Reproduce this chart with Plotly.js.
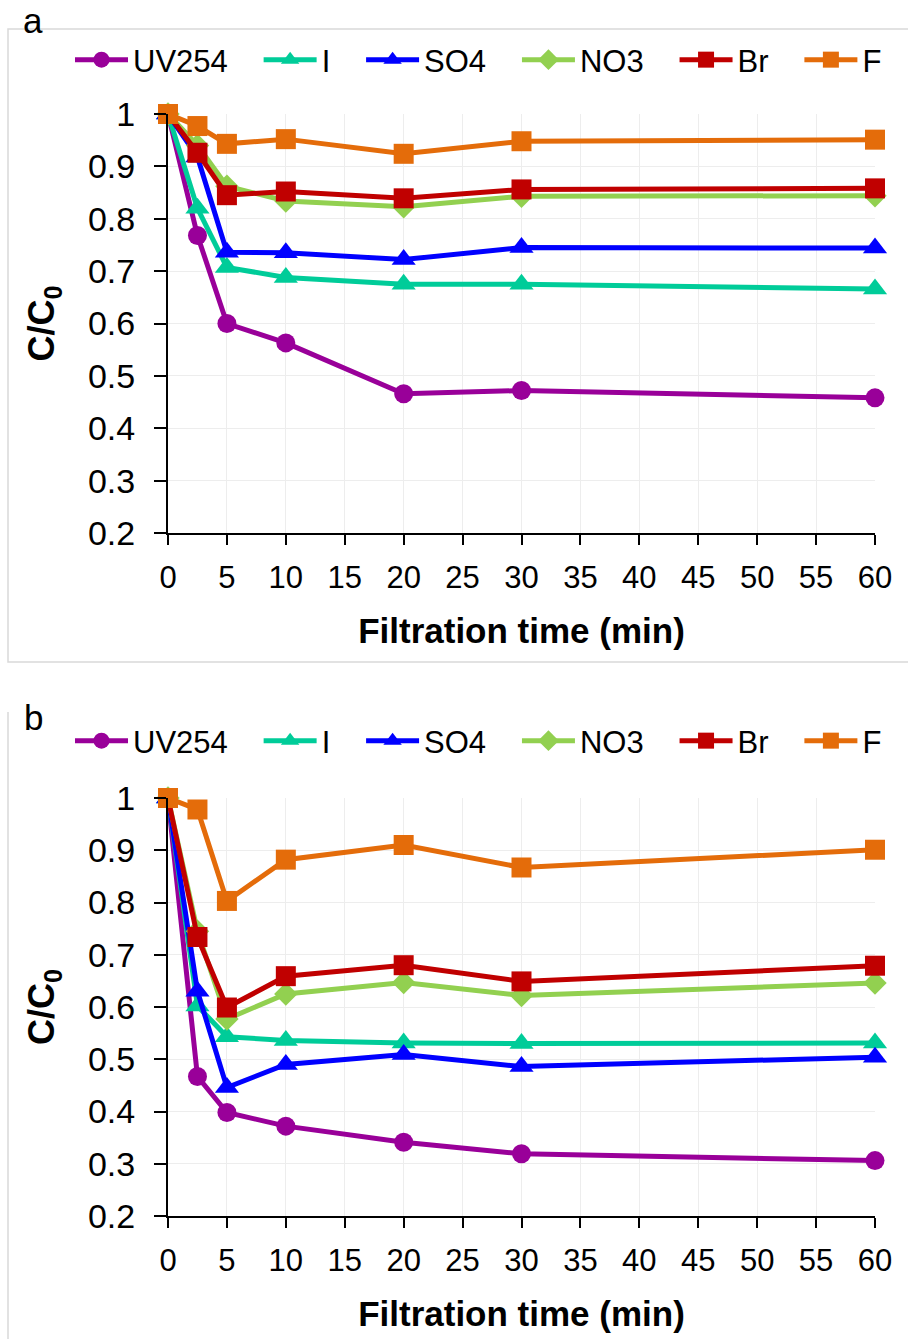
<!DOCTYPE html>
<html>
<head>
<meta charset="utf-8">
<script src="https://cdn.plot.ly/plotly-3.0.1.min.js"></script>
<style>
html,body{margin:0;padding:0;background:#fff;}
#wrap{position:relative;width:908px;height:1339px;overflow:hidden;}
#chartA{position:absolute;left:0;top:0;width:908px;height:690px;}
#chartB{position:absolute;left:0;top:690px;width:908px;height:649px;}
</style>
</head>
<body>
<div id="wrap"><div id="chartA"></div><div id="chartB"></div></div>
<script>
// Filtration time (min)
const times = [0, 2.5, 5, 10, 20, 30, 60];
const seriesNames = ["UV254", "I", "SO4", "NO3", "Br", "F"];

// Panel a
const uv254A = [1, 0.768, 0.600, 0.563, 0.466, 0.472, 0.458];
const iodideA = [1, 0.820, 0.707, 0.688, 0.675, 0.675, 0.666];
const sulfateA = [1, 0.918, 0.736, 0.735, 0.722, 0.745, 0.744];
const nitrateA = [1, 0.940, 0.862, 0.834, 0.823, 0.843, 0.844];
const bromideA = [1, 0.926, 0.845, 0.852, 0.839, 0.856, 0.858];
const fluorideA = [1, 0.977, 0.943, 0.952, 0.924, 0.948, 0.951];

// Panel b
const uv254B = [1, 0.467, 0.398, 0.372, 0.341, 0.319, 0.306];
const iodideB = [1, 0.602, 0.543, 0.536, 0.531, 0.530, 0.531];
const sulfateB = [1, 0.630, 0.446, 0.490, 0.509, 0.486, 0.504];
const nitrateB = [1, 0.745, 0.577, 0.625, 0.647, 0.622, 0.646];
const bromideB = [1, 0.734, 0.599, 0.659, 0.680, 0.649, 0.679];
const fluorideB = [1, 0.978, 0.803, 0.882, 0.910, 0.867, 0.901];

const yTickVals = [0.2, 0.3, 0.4, 0.5, 0.6, 0.7, 0.8, 0.9, 1];
const yTickText = ["0.2", "0.3", "0.4", "0.5", "0.6", "0.7", "0.8", "0.9", "1"];
const xTickVals = [0, 5, 10, 15, 20, 25, 30, 35, 40, 45, 50, 55, 60];
const panelLabels = ["a", "b"];

const styles = [
  {color: "#990099", symbol: "circle", size: 19},
  {color: "#00CC99", symbol: "triangle-up", size: 21},
  {color: "#0000FF", symbol: "triangle-up", size: 21},
  {color: "#92D050", symbol: "diamond", size: 18},
  {color: "#C00000", symbol: "square", size: 20},
  {color: "#E46C0A", symbol: "square", size: 20}
];

const panelA = [uv254A, iodideA, sulfateA, nitrateA, bromideA, fluorideA];
const panelB = [uv254B, iodideB, sulfateB, nitrateB, bromideB, fluorideB];

const FONT = "Liberation Sans, Arial, sans-serif";
const PAD = "\u00A0\u00A0\u00A0";

function makeTraces(data) {
  return data.map((vals, i) => {
    const s = styles[i];
    return {
      type: "scatter", mode: "lines+markers",
      x: times, y: vals, name: seriesNames[i] + (i < data.length - 1 ? PAD : ""),
      cliponaxis: false,
      line: {color: s.color, width: 5},
      marker: {color: s.color, symbol: s.symbol, size: s.size, line: {width: 0}}
    };
  });
}

function makeLayout(height, top, bottom, label, labelY, legendY, borderTop, borderBottom, closedRect) {
  const plotH = height - top - bottom;
  const pxX = (px) => (px - 168) / 707;
  const pxY = (py) => 1 - (py - top) / plotH;
  const shapes = closedRect ? [
    {type: "rect", xref: "paper", yref: "paper", layer: "below",
     x0: pxX(8), x1: pxX(930), y0: pxY(borderBottom), y1: pxY(borderTop),
     line: {color: "#d9d9d9", width: 1.5}, fillcolor: "rgba(0,0,0,0)"}
  ] : [
    {type: "line", xref: "paper", yref: "paper", layer: "below",
     x0: pxX(8), x1: pxX(8), y0: pxY(borderBottom), y1: pxY(borderTop),
     line: {color: "#d9d9d9", width: 1.5}}
  ];
  return {
    width: 908, height: height,
    margin: {l: 168, r: 33, t: top, b: bottom},
    paper_bgcolor: "rgba(0,0,0,0)", plot_bgcolor: "#fff",
    font: {family: FONT, color: "#000"},
    showlegend: true,
    xaxis: {
      range: [0, 60], tickvals: xTickVals,
      showgrid: true, gridcolor: "#ededed", gridwidth: 1, zeroline: false,
      showline: true, linecolor: "#000", linewidth: 2,
      ticks: "outside", ticklen: 10, tickwidth: 2, tickcolor: "#000",
      ticklabelstandoff: 6,
      tickfont: {family: FONT, size: 31, color: "#000"},
      automargin: false,
      title: {text: "<b>Filtration time (min)</b>", standoff: 24,
              font: {family: FONT, size: 35, color: "#000"}}
    },
    yaxis: {
      range: [0.2, 1], tickvals: yTickVals, ticktext: yTickText,
      showgrid: true, gridcolor: "#ededed", gridwidth: 1, zeroline: false,
      showline: true, linecolor: "#000", linewidth: 2,
      ticks: "outside", ticklen: 12, tickwidth: 2, tickcolor: "#000",
      ticklabelstandoff: 12,
      tickfont: {family: FONT, size: 34, color: "#000"},
      automargin: false,
      title: {text: "<b>C/C<sub>0</sub></b>", standoff: 22,
              font: {family: FONT, size: 36, color: "#000"}}
    },
    legend: {
      orientation: "h", x: pxX(70), y: pxY(legendY),
      xanchor: "left", yanchor: "middle",
      font: {family: FONT, size: 31, color: "#000"},
      bgcolor: "rgba(0,0,0,0)", itemwidth: 53, traceorder: "normal",
      itemclick: false, itemdoubleclick: false
    },
    shapes: shapes,
    annotations: [
      {text: label, xref: "paper", yref: "paper", x: pxX(33), y: pxY(labelY),
       xanchor: "center", yanchor: "middle", showarrow: false,
       font: {family: FONT, size: 35, color: "#000"}}
    ]
  };
}

const cfg = {displayModeBar: false, staticPlot: true};
// Panel a: plot area y 114..533 within a 690px-high block
Plotly.newPlot("chartA", makeTraces(panelA),
  makeLayout(690, 114, 157, panelLabels[0], 20, 60, 29, 662, true), cfg);
// Panel b: plot area y 797.7..1216.3 of the page, block starts at 690
Plotly.newPlot("chartB", makeTraces(panelB),
  makeLayout(649, 108, 123, panelLabels[1], 27, 51, 22, 700, false), cfg);
</script>
</body>
</html>
